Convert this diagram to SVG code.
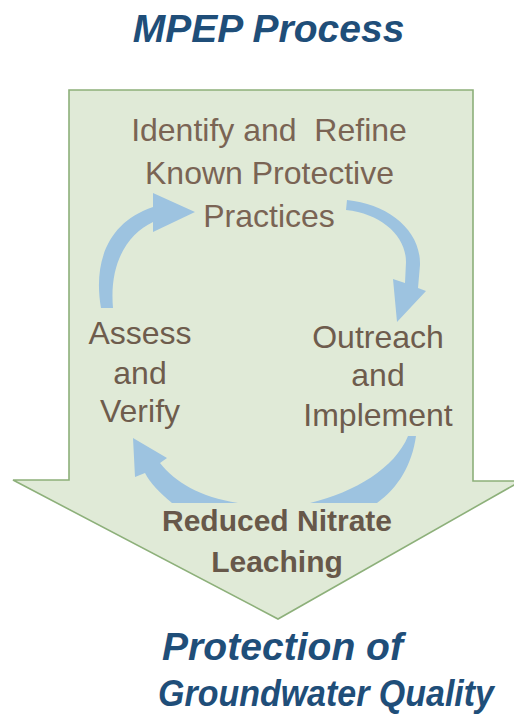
<svg xmlns="http://www.w3.org/2000/svg" width="514" height="721" viewBox="0 0 514 721">
  <style>
    .title { font-family: "Liberation Sans", Arial, sans-serif; font-weight: bold; font-style: italic; fill: #1F4E79; }
    .step { font-family: "Liberation Sans", Arial, sans-serif; font-size: 32px; fill: #6E5C4D; text-anchor: middle; }
    .top { fill: #7A6454; }
    .result { font-family: "Liberation Sans", Arial, sans-serif; font-weight: bold; font-size: 30px; fill: #67584A; text-anchor: middle; }
    .cyc { fill: #9DC3E0; stroke: none; }
  </style>

  <g id="title">
    <text class="title" x="268.5" y="42" font-size="39" text-anchor="middle">MPEP Process</text>
  </g>

  <g id="process-arrow">
    <path d="M69,90 L473,90 L473,481 L521,481 L278,619 L13,480 L69,480 Z" fill="#E0EAD7" stroke="#8DB07A" stroke-width="1.6" stroke-linejoin="miter"/>
  </g>

  <g id="connectors">
    <path class="cyc" d="M113,308 L101,308 C 93,262 108,222 153,207 L153,193 L195,212 L153,232 L153,222 C 128,234 109,262 113,308 Z"/>
    <path class="cyc" d="M346,210 L347,200 C 388,204 421,230 420,265 L418,288 L426,291 L397,322 L393,279 L405,283 L406,262 C 406,236 382,214 346,210 Z"/>
    <path class="cyc" d="M408,436 L416,436 C 412,465 398,488 377,503 L310,503 C 355,492 395,468 408,436 Z"/>
    <path class="cyc" d="M133,438 L167,458 L160,463 C 175,482 200,497 238,503 L172,503 C 160,493 150,483 145,473 L135,477 Z"/>
  </g>

  <g id="node-identify">
    <text class="step top" x="269" y="141" xml:space="preserve">Identify and  Refine</text>
    <text class="step top" x="269.5" y="184">Known Protective</text>
    <text class="step top" x="269" y="227">Practices</text>
  </g>

  <g id="node-outreach">
    <text class="step" x="378" y="348">Outreach</text>
    <text class="step" x="378" y="386">and</text>
    <text class="step" x="378" y="426">Implement</text>
  </g>

  <g id="node-assess">
    <text class="step" x="140" y="344">Assess</text>
    <text class="step" x="140" y="384">and</text>
    <text class="step" x="140" y="422">Verify</text>
  </g>

  <g id="node-result">
    <text class="result" x="277" y="531">Reduced Nitrate</text>
    <text class="result" x="277" y="572">Leaching</text>
  </g>

  <g id="outcome">
    <text class="title" x="162" y="660" font-size="38" textLength="241" lengthAdjust="spacingAndGlyphs">Protection of</text>
    <text class="title" x="158" y="706" font-size="36" textLength="336" lengthAdjust="spacingAndGlyphs">Groundwater Quality</text>
  </g>
</svg>
